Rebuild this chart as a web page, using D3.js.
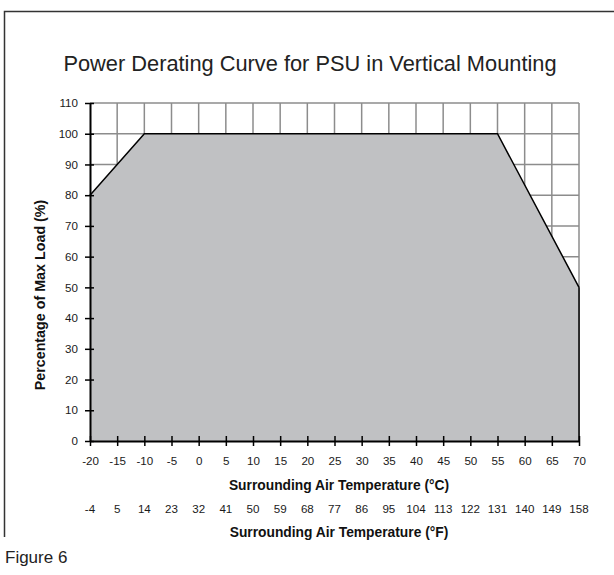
<!DOCTYPE html>
<html lang="en">
<head>
  <meta charset="UTF-8">
  <title>Power Derating Curve</title>
  <script src="https://d3js.org/d3.v7.min.js"></script>
  <style>
    body {
      margin: 0;
      padding: 0;
      background: #fff;
      font-family: Arial, 'Liberation Sans', sans-serif;
    }
  </style>
</head>
<body>
  <div id="chart"></div>

  <script>
    // Derating curve (°C, % of max load)
    const tempC = [-20, -10, 55, 70];
    const loadPct = [80, 100, 100, 50];

    // Tick labels
    const celsiusTicks = [-20, -15, -10, -5, 0, 5, 10, 15, 20, 25, 30, 35, 40, 45, 50, 55, 60, 65, 70];
    const fahrenheitLabels = ['-4', '5', '14', '23', '32', '41', '50', '59', '68', '77', '86', '95', '104', '113', '122', '131', '140', '149', '158'];
    const loadTicks = [0, 10, 20, 30, 40, 50, 60, 70, 80, 90, 100, 110];

    const width = 614, height = 575;
    const margin = { top: 103, right: 35, bottom: 134, left: 90 };

    const svg = d3.select('#chart')
      .append('svg')
      .attr('width', width)
      .attr('height', height);

    // outer frame (open at bottom/right like the original crop)
    svg.append('path')
      .attr('d', `M4.5,${height - 38} V11.5 H${width}`)
      .attr('fill', 'none')
      .attr('stroke', '#333')
      .attr('stroke-width', 1.5);

    svg.append('text')
      .attr('x', 310)
      .attr('y', 71)
      .attr('text-anchor', 'middle')
      .attr('font-size', 21.8)
      .attr('fill', '#222')
      .text('Power Derating Curve for PSU in Vertical Mounting');

    const x = d3.scaleLinear()
      .domain([-20, 70])
      .range([margin.left, width - margin.right]);

    const y = d3.scaleLinear()
      .domain([0, 110])
      .range([height - margin.bottom, margin.top]);

    // grid
    const grid = svg.append('g')
      .attr('stroke', '#8c8c8c')
      .attr('stroke-width', 1.5);

    grid.selectAll('line.v')
      .data(celsiusTicks.slice(1))
      .join('line')
      .attr('class', 'v')
      .attr('x1', d => x(d)).attr('x2', d => x(d))
      .attr('y1', y(0)).attr('y2', y(110));

    grid.selectAll('line.h')
      .data(loadTicks.slice(1))
      .join('line')
      .attr('class', 'h')
      .attr('x1', x(-20)).attr('x2', x(70))
      .attr('y1', d => y(d)).attr('y2', d => y(d));

    // area under curve
    const pts = tempC.map((t, i) => ({ t, v: loadPct[i] }));

    svg.append('path')
      .datum(pts)
      .attr('fill', '#c0c1c3')
      .attr('d', d3.area().x(d => x(d.t)).y0(y(0)).y1(d => y(d.v)));

    svg.append('path')
      .datum(pts)
      .attr('fill', 'none')
      .attr('stroke', '#000')
      .attr('stroke-width', 1.5)
      .attr('d', d3.line().x(d => x(d.t)).y(d => y(d.v)));

    // right edge of the fill
    svg.append('line')
      .attr('x1', x(70)).attr('x2', x(70))
      .attr('y1', y(50)).attr('y2', y(0))
      .attr('stroke', '#000')
      .attr('stroke-width', 1.5);

    // axes
    const plain = d => String(d);

    const yAxis = svg.append('g')
      .attr('transform', `translate(${x(-20)},0)`)
      .call(d3.axisLeft(y).tickValues(loadTicks).tickFormat(plain).tickSize(5).tickSizeOuter(0).tickPadding(7));

    const xAxis = svg.append('g')
      .attr('transform', `translate(0,${y(0)})`)
      .call(d3.axisBottom(x).tickValues(celsiusTicks).tickFormat(plain).tickSize(5).tickSizeOuter(0).tickPadding(11));

    [yAxis, xAxis].forEach(g => {
      g.select('.domain').attr('stroke', '#000').attr('stroke-width', 2);
      g.selectAll('.tick line').attr('stroke', '#000').attr('stroke-width', 1.5);
      g.selectAll('.tick text')
        .attr('font-family', 'Arial, "Liberation Sans", sans-serif')
        .attr('font-size', 11.6)
        .attr('fill', '#1a1a1a');
    });

    // ticks cross the axis lines
    yAxis.selectAll('.tick line').attr('x1', 4);
    xAxis.selectAll('.tick line').attr('y1', -5);

    // Fahrenheit row
    svg.append('g')
      .selectAll('text')
      .data(celsiusTicks)
      .join('text')
      .attr('x', d => x(d))
      .attr('y', 513)
      .attr('text-anchor', 'middle')
      .attr('font-size', 11.6)
      .attr('fill', '#1a1a1a')
      .text((d, i) => fahrenheitLabels[i]);

    const cx = 339;

    svg.append('text')
      .attr('x', cx)
      .attr('y', 490)
      .attr('text-anchor', 'middle')
      .attr('font-size', 13.8)
      .attr('font-weight', 'bold')
      .attr('fill', '#111')
      .text('Surrounding Air Temperature (°C)');

    svg.append('text')
      .attr('x', cx)
      .attr('y', 537)
      .attr('text-anchor', 'middle')
      .attr('font-size', 13.8)
      .attr('font-weight', 'bold')
      .attr('fill', '#111')
      .text('Surrounding Air Temperature (°F)');

    svg.append('text')
      .attr('transform', `translate(45,295) rotate(-90)`)
      .attr('text-anchor', 'middle')
      .attr('font-size', 14.3)
      .attr('font-weight', 'bold')
      .attr('fill', '#111')
      .text('Percentage of Max Load (%)');

    svg.append('text')
      .attr('x', 5)
      .attr('y', 563)
      .attr('font-size', 17)
      .attr('fill', '#222')
      .text('Figure 6');
  </script>
</body>
</html>
